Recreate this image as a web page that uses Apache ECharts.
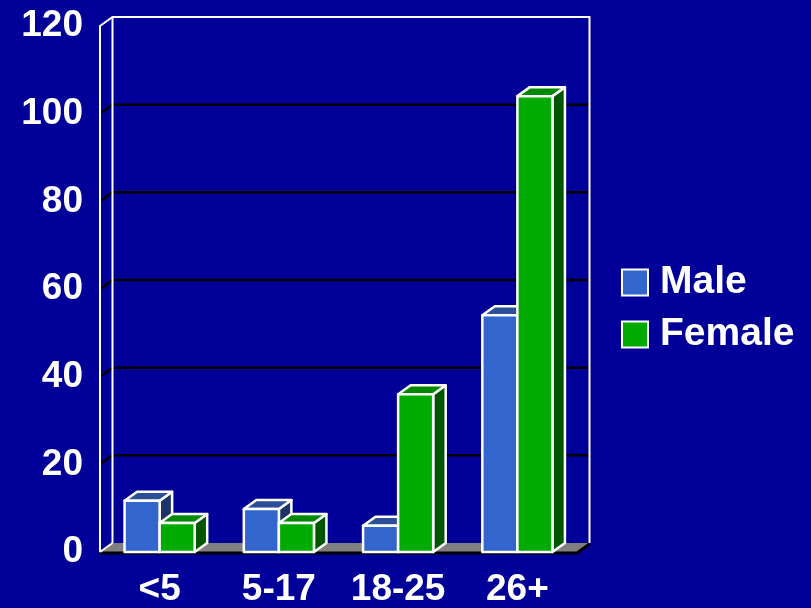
<!DOCTYPE html>
<html>
<head>
<meta charset="utf-8">
<script src="https://cdn.jsdelivr.net/npm/echarts@6/dist/echarts.min.js"></script>
<style>
html,body{margin:0;padding:0;background:#000099;}
#c{width:811px;height:608px;}
</style>
</head>
<body>
<div id="c"></div>
<script>
var categories = ['<5', '5-17', '18-25', '26+'];
var maleValues = [11.7, 9.8, 6, 54];
var femaleValues = [6.6, 6.6, 36, 104];
var yTicks = [0, 20, 40, 60, 80, 100, 120];

var DX = 12.5, DY = -9;
var FONT = '"Liberation Sans", Arial, sans-serif';

function makeBarSeries(name, values, front, top, side, sideSign) {
  return {
    type: 'custom',
    name: name,
    itemStyle: { color: front },
    z: 5,
    encode: { x: 0, y: 1 },
    data: values.map(function (v, i) { return [i, v]; }),
    renderItem: function (params, api) {
      var ci = api.value(0), v = api.value(1);
      var p = api.coord([ci, v]);
      var b = api.coord([ci, 0]);
      var band = api.size([1, 0])[0];
      var w = band * 0.294;
      var xl = sideSign < 0 ? p[0] - w : p[0];
      var xr = xl + w;
      var yt = p[1], yb = b[1];
      var st = { stroke: '#ffffff', lineWidth: 2.5, lineJoin: 'round' };
      return {
        type: 'group',
        children: [
          { type: 'polygon', shape: { points: [[xr, yt], [xr + DX, yt + DY], [xr + DX, yb + DY], [xr, yb]] },
            style: Object.assign({ fill: side }, st) },
          { type: 'polygon', shape: { points: [[xl, yt], [xr, yt], [xr + DX, yt + DY], [xl + DX, yt + DY]] },
            style: Object.assign({ fill: top }, st) },
          { type: 'polygon', shape: { points: [[xl, yt], [xr, yt], [xr, yb], [xl, yb]] },
            style: Object.assign({ fill: front }, st) }
        ]
      };
    }
  };
}

function edges(api) {
  var band = api.size([1, 0])[0];
  var x0 = api.coord([0, 0])[0] - band / 2;
  var x1 = api.coord([categories.length - 1, 0])[0] + band / 2;
  return { x0: x0, x1: x1 };
}

var option = {
  backgroundColor: '#000099',
  animation: false,
  grid: { left: 100, right: 234, top: 26, bottom: 53 },
  legend: {
    data: ['Male', 'Female'],
    orient: 'vertical',
    left: 621, top: 263,
    padding: 0,
    itemWidth: 26, itemHeight: 26, itemGap: 13,
    icon: 'rect',
    itemStyle: { borderColor: '#ffffff', borderWidth: 2 },
    textStyle: { color: '#ffffff', fontSize: 39, fontWeight: 'bold', fontFamily: FONT, padding: [0, 0, 0, 7] }
  },
  xAxis: {
    type: 'category',
    data: categories,
    axisLine: { show: false },
    axisTick: { show: false },
    axisLabel: { color: '#ffffff', fontSize: 37, fontWeight: 'bold', fontFamily: FONT, margin: 19, interval: 0 }
  },
  yAxis: {
    type: 'value',
    min: 0, max: 120, interval: 20,
    axisLine: { show: false },
    axisTick: { show: false },
    splitLine: { show: false },
    axisLabel: { color: '#ffffff', fontSize: 37, fontWeight: 'bold', fontFamily: FONT, margin: 17 }
  },
  series: [
    {
      type: 'custom',
      name: 'grid',
      z: 1,
      silent: true,
      encode: { x: 0, y: 1 },
      data: yTicks.filter(function (t) { return t > 0 && t < 120; }).map(function (t) { return [0, t]; }),
      renderItem: function (params, api) {
        var e = edges(api);
        var y = api.coord([0, api.value(1)])[1];
        return {
          type: 'polyline',
          shape: { points: [[e.x0, y], [e.x0 + DX, y + DY], [e.x1 + DX, y + DY]] },
          style: { stroke: '#000000', lineWidth: 2.5, fill: null }
        };
      }
    },
    {
      type: 'custom',
      name: 'frame',
      z: 2,
      silent: true,
      encode: { x: 0, y: 1 },
      data: [[0, 0]],
      renderItem: function (params, api) {
        var e = edges(api);
        var y0 = api.coord([0, 0])[1];
        var yT = api.coord([0, 120])[1];
        var w = { stroke: '#ffffff', lineWidth: 2, fill: null };
        return {
          type: 'group',
          children: [
            { type: 'polyline', shape: { points: [[e.x0, y0], [e.x0, yT], [e.x0 + DX, yT + DY], [e.x1 + DX, yT + DY], [e.x1 + DX, y0 + DY]] }, style: w },
            { type: 'line', shape: { x1: e.x0 + DX, y1: yT + DY, x2: e.x0 + DX, y2: y0 + DY }, style: w },
            { type: 'polygon', shape: { points: [[e.x0, y0], [e.x0 + DX, y0 + DY], [e.x1 + DX, y0 + DY], [e.x1, y0]] },
              style: { fill: '#808080', stroke: null } },
            { type: 'polyline', shape: { points: [[e.x0, y0 + 1], [e.x1, y0 + 1], [e.x1 + DX, y0 + DY + 1]] },
              style: { stroke: '#000000', lineWidth: 3, fill: null } },
            { type: 'polyline', shape: { points: [[e.x0, y0], [e.x0 + DX, y0 + DY]] },
              style: { stroke: '#ffffff', lineWidth: 2, fill: null } }
          ]
        };
      }
    },
    makeBarSeries('Male', maleValues, '#3366CC', '#2B4F99', '#1C3366', -1),
    makeBarSeries('Female', femaleValues, '#00AA00', '#008800', '#005500', 1)
  ]
};

var chart = echarts.init(document.getElementById('c'));
chart.setOption(option);
</script>
</body>
</html>
